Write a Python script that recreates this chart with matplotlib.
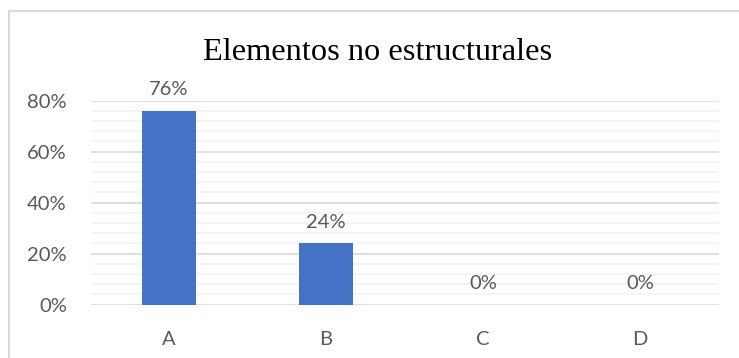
import matplotlib.pyplot as plt
from matplotlib.lines import Line2D
from matplotlib.ticker import MultipleLocator, PercentFormatter

# Share of answers per option
categorias = ['A', 'B', 'C', 'D']
valores = [0.76, 0.24, 0.0, 0.0]

W, H = 739, 358
fig = plt.figure(figsize=(W / 100, H / 100), dpi=100)
ax = fig.add_axes([90.5 / W, 53.5 / H, 628 / W, 203.8 / H])

texto = '#595959'
plt.rcParams['font.family'] = 'Lato'

x = range(len(categorias))
bars = ax.bar(x, valores, width=0.34, color='#4472C4', zorder=3)

for b, v in zip(bars, valores):
    ax.annotate(f"{v:.0%}", (b.get_x() + b.get_width() / 2, v),
                xytext=(0, 9), textcoords='offset points',
                ha='center', va='bottom', fontsize=14.5, color=texto,
                family='Lato', annotation_clip=False)

ax.set_xlim(-0.5, len(categorias) - 0.5)
ax.set_ylim(0, 0.8)
ax.yaxis.set_major_locator(MultipleLocator(0.2))
ax.yaxis.set_minor_locator(MultipleLocator(0.04))
ax.yaxis.set_major_formatter(PercentFormatter(1.0, decimals=0))
ax.grid(axis='y', which='major', color='#D9D9D9', linewidth=1.2, zorder=1)
ax.grid(axis='y', which='minor', color='#F2F2F2', linewidth=1.2, zorder=0)

ax.set_xticks(list(x))
ax.set_xticklabels(categorias)
ax.tick_params(axis='both', which='both', length=0, labelsize=14.5,
               labelcolor=texto)
ax.tick_params(axis='x', pad=19)
ax.tick_params(axis='y', pad=17)
for lab in ax.get_xticklabels() + ax.get_yticklabels():
    lab.set_family('Lato')

for s in ax.spines.values():
    s.set_visible(False)

fig.text(378 / W, 1 - 60 / H, 'Elementos no estructurales',
         ha='center', va='baseline', fontsize=23.3, color='black',
         family='Liberation Serif')

# Outer chart frame (left and top edges, the rest runs off the canvas)
fx, fy = 8.5 / W, 1 - 10.5 / H
fig.lines.append(Line2D([fx, fx], [0, fy], transform=fig.transFigure,
                        color='#D9D9D9', linewidth=1.5))
fig.lines.append(Line2D([fx, 1], [fy, fy], transform=fig.transFigure,
                        color='#D9D9D9', linewidth=1.5))

fig.savefig('out.png', dpi=100)
